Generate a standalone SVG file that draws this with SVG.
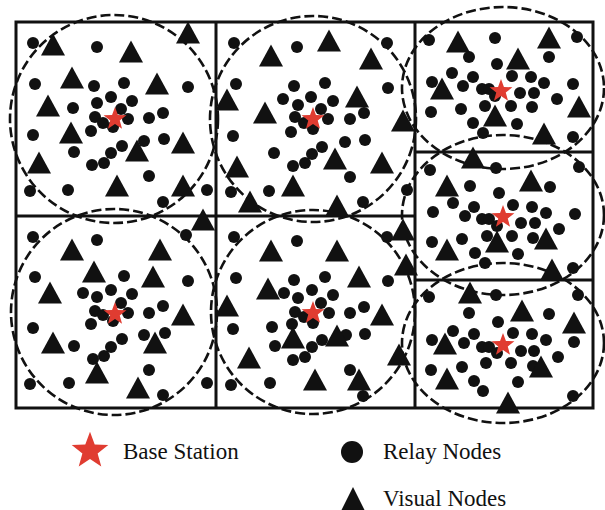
<svg xmlns="http://www.w3.org/2000/svg" xmlns:xlink="http://www.w3.org/1999/xlink" width="605" height="510" viewBox="0 0 605 510">
<style>
.grid{fill:none;stroke:#111;stroke-width:3}
.range{fill:none;stroke:#111;stroke-width:2.6;stroke-dasharray:10 4}
.dot{fill:#111}
.tri{fill:#111}
.bs{fill:#e03c31}
.lbl{font-family:"Liberation Serif","Times New Roman",serif;font-size:23px;fill:#111}
</style>
<defs>
<circle id="d" class="dot" r="6"/>
<path id="t" class="tri" d="M0,-11.5 L12,10.5 L-12,10.5Z"/>
<path id="s" class="bs" d="M0,-12 L2.94,-4.05 L11.41,-3.71 L4.76,1.55 L7.05,9.71 L0,5 L-7.05,9.71 L-4.76,1.55 L-11.41,-3.71 L-2.94,-4.05Z"/>
</defs>
<rect width="605" height="510" fill="#fff"/>
<g id="connectors">
<rect class="grid" x="16" y="22" width="577" height="386"/>
<line class="grid" x1="216" y1="22" x2="216" y2="408"/>
<line class="grid" x1="415" y1="22" x2="415" y2="408"/>
<line class="grid" x1="16" y1="216" x2="415" y2="216"/>
<line class="grid" x1="415" y1="152" x2="593" y2="152"/>
<line class="grid" x1="415" y1="280" x2="593" y2="280"/>
<circle class="range" cx="114" cy="119" r="104"/>
<circle class="range" cx="313" cy="119" r="103"/>
<circle class="range" cx="114" cy="312" r="103"/>
<circle class="range" cx="313" cy="312" r="102"/>
<ellipse class="range" cx="503" cy="88" rx="101" ry="81"/>
<ellipse class="range" cx="503" cy="215" rx="101" ry="80"/>
<ellipse class="range" cx="503" cy="343" rx="101" ry="80"/>
</g>
<g id="cell-top-left">
<use href="#d" x="33" y="43"/><use href="#d" x="97" y="47"/><use href="#d" x="35" y="84"/><use href="#d" x="94" y="86"/><use href="#d" x="124" y="83"/><use href="#d" x="188" y="87"/><use href="#d" x="111" y="97"/><use href="#d" x="132" y="101"/><use href="#d" x="73" y="108"/><use href="#d" x="97" y="103"/><use href="#d" x="121" y="109"/><use href="#d" x="163" y="113"/><use href="#d" x="95" y="117"/><use href="#d" x="128" y="119"/><use href="#d" x="149" y="118"/><use href="#d" x="103" y="123"/><use href="#d" x="113" y="127"/><use href="#d" x="91" y="131"/><use href="#d" x="33" y="135"/><use href="#d" x="144" y="141"/><use href="#d" x="164" y="139"/><use href="#d" x="122" y="146"/><use href="#d" x="74" y="152"/><use href="#d" x="111" y="153"/><use href="#d" x="104" y="163"/><use href="#d" x="92" y="165"/><use href="#d" x="149" y="176"/><use href="#d" x="30" y="191"/><use href="#d" x="68" y="190"/><use href="#d" x="163" y="202"/><use href="#d" x="207" y="190"/>
<use href="#t" x="53" y="45"/><use href="#t" x="131" y="52"/><use href="#t" x="188" y="33"/><use href="#t" x="72" y="78"/><use href="#t" x="157" y="84"/><use href="#t" x="48" y="106"/><use href="#t" x="71" y="133"/><use href="#t" x="183" y="143"/><use href="#t" x="137" y="151"/><use href="#t" x="39" y="163"/><use href="#t" x="117" y="186"/><use href="#t" x="183" y="186"/>
<use href="#s" x="115" y="119"/>
</g>
<g id="cell-top-middle">
<use href="#d" x="234" y="43"/><use href="#d" x="297" y="47"/><use href="#d" x="387" y="43"/><use href="#d" x="236" y="84"/><use href="#d" x="294" y="86"/><use href="#d" x="325" y="83"/><use href="#d" x="388" y="88"/><use href="#d" x="283" y="99"/><use href="#d" x="311" y="97"/><use href="#d" x="333" y="101"/><use href="#d" x="298" y="105"/><use href="#d" x="321" y="109"/><use href="#d" x="364" y="113"/><use href="#d" x="295" y="117"/><use href="#d" x="328" y="119"/><use href="#d" x="350" y="119"/><use href="#d" x="304" y="123"/><use href="#d" x="313" y="129"/><use href="#d" x="291" y="132"/><use href="#d" x="233" y="136"/><use href="#d" x="345" y="142"/><use href="#d" x="365" y="140"/><use href="#d" x="322" y="147"/><use href="#d" x="274" y="153"/><use href="#d" x="312" y="154"/><use href="#d" x="305" y="163"/><use href="#d" x="293" y="166"/><use href="#d" x="350" y="177"/><use href="#d" x="231" y="192"/><use href="#d" x="269" y="191"/><use href="#d" x="363" y="202"/><use href="#d" x="407" y="190"/>
<use href="#t" x="329" y="41"/><use href="#t" x="271" y="56"/><use href="#t" x="371" y="59"/><use href="#t" x="227" y="100"/><use href="#t" x="357" y="97"/><use href="#t" x="265" y="113"/><use href="#t" x="403" y="121"/><use href="#t" x="237" y="167"/><use href="#t" x="335" y="159"/><use href="#t" x="382" y="163"/><use href="#t" x="293" y="186"/><use href="#t" x="250" y="202"/><use href="#t" x="337" y="206"/>
<use href="#s" x="313" y="119"/>
</g>
<g id="cell-bottom-left">
<use href="#d" x="33" y="237"/><use href="#d" x="97" y="240"/><use href="#d" x="186" y="235"/><use href="#d" x="35" y="277"/><use href="#d" x="124" y="276"/><use href="#d" x="188" y="281"/><use href="#d" x="83" y="293"/><use href="#d" x="111" y="290"/><use href="#d" x="97" y="297"/><use href="#d" x="132" y="294"/><use href="#d" x="163" y="306"/><use href="#d" x="121" y="303"/><use href="#d" x="95" y="311"/><use href="#d" x="149" y="313"/><use href="#d" x="128" y="313"/><use href="#d" x="103" y="315"/><use href="#d" x="113" y="321"/><use href="#d" x="91" y="324"/><use href="#d" x="33" y="328"/><use href="#d" x="144" y="335"/><use href="#d" x="165" y="333"/><use href="#d" x="122" y="339"/><use href="#d" x="74" y="346"/><use href="#d" x="111" y="347"/><use href="#d" x="104" y="356"/><use href="#d" x="93" y="359"/><use href="#d" x="149" y="370"/><use href="#d" x="30" y="384"/><use href="#d" x="69" y="383"/><use href="#d" x="163" y="395"/><use href="#d" x="207" y="383"/>
<use href="#t" x="72" y="250"/><use href="#t" x="160" y="250"/><use href="#t" x="94" y="272"/><use href="#t" x="153" y="277"/><use href="#t" x="50" y="293"/><use href="#t" x="183" y="315"/><use href="#t" x="53" y="343"/><use href="#t" x="155" y="343"/><use href="#t" x="97" y="373"/><use href="#t" x="138" y="388"/><use href="#t" x="203" y="220"/>
<use href="#s" x="115" y="314"/>
</g>
<g id="cell-bottom-middle">
<use href="#d" x="234" y="237"/><use href="#d" x="297" y="241"/><use href="#d" x="387" y="237"/><use href="#d" x="236" y="278"/><use href="#d" x="294" y="280"/><use href="#d" x="325" y="277"/><use href="#d" x="388" y="281"/><use href="#d" x="284" y="293"/><use href="#d" x="312" y="290"/><use href="#d" x="333" y="295"/><use href="#d" x="298" y="298"/><use href="#d" x="321" y="303"/><use href="#d" x="364" y="307"/><use href="#d" x="295" y="312"/><use href="#d" x="329" y="313"/><use href="#d" x="350" y="313"/><use href="#d" x="304" y="317"/><use href="#d" x="313" y="323"/><use href="#d" x="292" y="324"/><use href="#d" x="233" y="329"/><use href="#d" x="272" y="327"/><use href="#d" x="346" y="335"/><use href="#d" x="365" y="334"/><use href="#d" x="322" y="340"/><use href="#d" x="275" y="346"/><use href="#d" x="312" y="347"/><use href="#d" x="305" y="357"/><use href="#d" x="293" y="360"/><use href="#d" x="350" y="370"/><use href="#d" x="231" y="385"/><use href="#d" x="270" y="383"/><use href="#d" x="363" y="396"/>
<use href="#t" x="271" y="251"/><use href="#t" x="337" y="251"/><use href="#t" x="359" y="277"/><use href="#t" x="268" y="289"/><use href="#t" x="227" y="306"/><use href="#t" x="382" y="315"/><use href="#t" x="293" y="338"/><use href="#t" x="337" y="336"/><use href="#t" x="249" y="358"/><use href="#t" x="315" y="380"/><use href="#t" x="359" y="380"/><use href="#t" x="403" y="230"/><use href="#t" x="406" y="265"/><use href="#t" x="399" y="355"/>
<use href="#s" x="313" y="313"/>
</g>
<g id="cell-right-top">
<use href="#d" x="429" y="40"/><use href="#d" x="495" y="38"/><use href="#d" x="577" y="37"/><use href="#d" x="469" y="57"/><use href="#d" x="549" y="57"/><use href="#d" x="497" y="64"/><use href="#d" x="452" y="73"/><use href="#d" x="473" y="77"/><use href="#d" x="512" y="76"/><use href="#d" x="531" y="77"/><use href="#d" x="432" y="82"/><use href="#d" x="463" y="86"/><use href="#d" x="482" y="89"/><use href="#d" x="489" y="89"/><use href="#d" x="544" y="83"/><use href="#d" x="573" y="84"/><use href="#d" x="520" y="93"/><use href="#d" x="534" y="93"/><use href="#d" x="495" y="96"/><use href="#d" x="557" y="99"/><use href="#d" x="431" y="112"/><use href="#d" x="461" y="109"/><use href="#d" x="485" y="106"/><use href="#d" x="511" y="106"/><use href="#d" x="532" y="107"/><use href="#d" x="473" y="123"/><use href="#d" x="517" y="124"/><use href="#d" x="483" y="133"/><use href="#d" x="573" y="137"/>
<use href="#t" x="458" y="42"/><use href="#t" x="549" y="38"/><use href="#t" x="518" y="59"/><use href="#t" x="442" y="89"/><use href="#t" x="579" y="107"/><use href="#t" x="495" y="116"/><use href="#t" x="544" y="134"/>
<use href="#s" x="501" y="91"/>
</g>
<g id="cell-right-middle">
<use href="#d" x="430" y="170"/><use href="#d" x="496" y="168"/><use href="#d" x="579" y="167"/><use href="#d" x="470" y="186"/><use href="#d" x="550" y="187"/><use href="#d" x="499" y="193"/><use href="#d" x="453" y="203"/><use href="#d" x="474" y="207"/><use href="#d" x="513" y="205"/><use href="#d" x="532" y="207"/><use href="#d" x="433" y="212"/><use href="#d" x="465" y="216"/><use href="#d" x="482" y="219"/><use href="#d" x="489" y="219"/><use href="#d" x="546" y="213"/><use href="#d" x="575" y="214"/><use href="#d" x="521" y="223"/><use href="#d" x="535" y="223"/><use href="#d" x="497" y="226"/><use href="#d" x="559" y="229"/><use href="#d" x="432" y="242"/><use href="#d" x="462" y="239"/><use href="#d" x="487" y="236"/><use href="#d" x="512" y="236"/><use href="#d" x="533" y="238"/><use href="#d" x="475" y="253"/><use href="#d" x="518" y="254"/><use href="#d" x="485" y="263"/><use href="#d" x="573" y="268"/>
<use href="#t" x="473" y="158"/><use href="#t" x="447" y="186"/><use href="#t" x="531" y="181"/><use href="#t" x="546" y="239"/><use href="#t" x="447" y="250"/><use href="#t" x="497" y="242"/><use href="#t" x="552" y="270"/>
<use href="#s" x="503" y="217"/>
</g>
<g id="cell-right-bottom">
<use href="#d" x="429" y="297"/><use href="#d" x="496" y="295"/><use href="#d" x="578" y="295"/><use href="#d" x="469" y="313"/><use href="#d" x="549" y="314"/><use href="#d" x="498" y="322"/><use href="#d" x="453" y="331"/><use href="#d" x="474" y="334"/><use href="#d" x="513" y="333"/><use href="#d" x="532" y="334"/><use href="#d" x="432" y="340"/><use href="#d" x="464" y="343"/><use href="#d" x="482" y="347"/><use href="#d" x="489" y="347"/><use href="#d" x="546" y="340"/><use href="#d" x="574" y="342"/><use href="#d" x="521" y="351"/><use href="#d" x="534" y="351"/><use href="#d" x="497" y="353"/><use href="#d" x="558" y="357"/><use href="#d" x="431" y="370"/><use href="#d" x="462" y="367"/><use href="#d" x="486" y="363"/><use href="#d" x="511" y="363"/><use href="#d" x="533" y="366"/><use href="#d" x="474" y="381"/><use href="#d" x="518" y="382"/><use href="#d" x="483" y="391"/><use href="#d" x="573" y="396"/>
<use href="#t" x="470" y="293"/><use href="#t" x="522" y="311"/><use href="#t" x="574" y="323"/><use href="#t" x="445" y="344"/><use href="#t" x="541" y="367"/><use href="#t" x="447" y="379"/><use href="#t" x="508" y="403"/>
<use href="#s" x="503" y="345"/>
</g>
<g id="legend">
<g id="legend-base"><use href="#s" transform="translate(90,451) scale(1.6)"/><text class="lbl" x="123" y="459">Base Station</text></g>
<g id="legend-relay"><circle class="dot" cx="352" cy="452" r="11"/><text class="lbl" x="383" y="459">Relay Nodes</text></g>
<g id="legend-visual"><path class="tri" d="M353,487 L365,511 L341,511Z"/><text class="lbl" x="383" y="506">Visual Nodes</text></g>
</g>
</svg>
